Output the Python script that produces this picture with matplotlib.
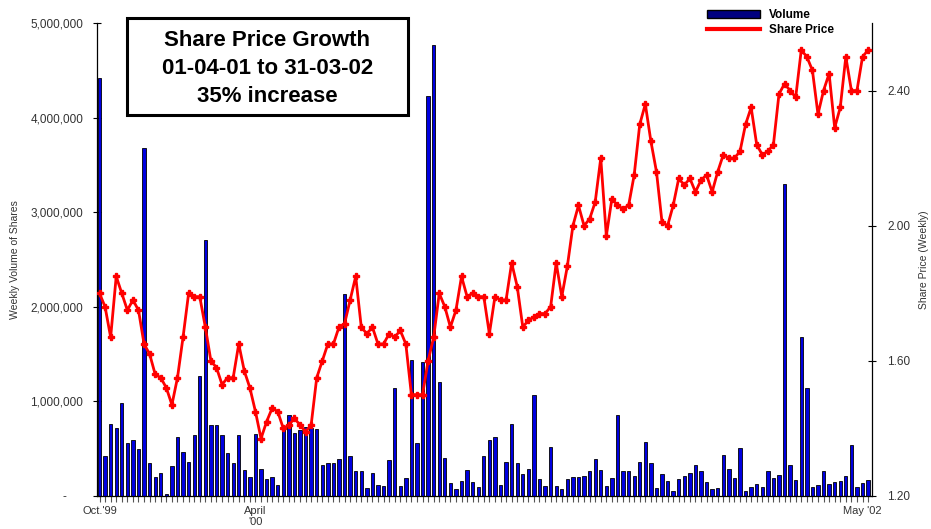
import matplotlib
matplotlib.use("Agg")
import matplotlib.lines as mlines
import matplotlib.patches as mpatches
import matplotlib.pyplot as plt
import numpy as np
from matplotlib.ticker import FuncFormatter

plt.rcParams["font.family"] = ["Liberation Sans", "DejaVu Sans"]

# weekly volume, millions of shares (Oct '99 .. May '02)
volume_m = [
    4.42, 0.42, 0.76, 0.72, 0.98, 0.56, 0.59, 0.50, 3.68, 0.35,
    0.20, 0.24, 0.02, 0.32, 0.62, 0.47, 0.36, 0.64, 1.27, 2.71,
    0.75, 0.75, 0.64, 0.45, 0.35, 0.64, 0.27, 0.20, 0.66, 0.29,
    0.18, 0.20, 0.12, 0.74, 0.86, 0.67, 0.70, 0.73, 0.72, 0.71,
    0.33, 0.35, 0.35, 0.39, 2.14, 0.42, 0.26, 0.26, 0.08, 0.24,
    0.12, 0.11, 0.38, 1.14, 0.11, 0.19, 1.44, 0.56, 1.42, 4.23,
    4.77, 1.21, 0.40, 0.14, 0.07, 0.16, 0.28, 0.15, 0.10, 0.42,
    0.59, 0.62, 0.12, 0.36, 0.76, 0.35, 0.23, 0.29, 1.07, 0.18,
    0.11, 0.52, 0.11, 0.07, 0.18, 0.20, 0.20, 0.21, 0.26, 0.39,
    0.28, 0.11, 0.19, 0.86, 0.26, 0.26, 0.21, 0.36, 0.57, 0.35,
    0.08, 0.23, 0.16, 0.05, 0.18, 0.21, 0.24, 0.33, 0.26, 0.15,
    0.07, 0.08, 0.43, 0.29, 0.19, 0.51, 0.05, 0.10, 0.13, 0.09,
    0.26, 0.19, 0.22, 3.30, 0.33, 0.17, 1.68, 1.14, 0.10, 0.12,
    0.26, 0.13, 0.15, 0.16, 0.21, 0.54, 0.10, 0.14, 0.17,
]

# weekly share price
price = [
    1.80, 1.76, 1.67, 1.85, 1.80, 1.75, 1.78, 1.75, 1.65, 1.62,
    1.56, 1.55, 1.52, 1.47, 1.55, 1.67, 1.80, 1.79, 1.79, 1.70,
    1.60, 1.58, 1.53, 1.55, 1.55, 1.65, 1.57, 1.52, 1.45, 1.37,
    1.42, 1.46, 1.45, 1.40, 1.41, 1.43, 1.41, 1.39, 1.41, 1.55,
    1.60, 1.65, 1.65, 1.70, 1.71, 1.78, 1.85, 1.70, 1.68, 1.70,
    1.65, 1.65, 1.68, 1.67, 1.69, 1.65, 1.50, 1.50, 1.50, 1.60,
    1.67, 1.80, 1.76, 1.70, 1.75, 1.85, 1.79, 1.80, 1.79, 1.79,
    1.68, 1.79, 1.78, 1.78, 1.89, 1.82, 1.70, 1.72, 1.73, 1.74,
    1.74, 1.76, 1.89, 1.79, 1.88, 2.00, 2.06, 2.00, 2.02, 2.07,
    2.20, 1.97, 2.08, 2.06, 2.05, 2.06, 2.15, 2.30, 2.36, 2.25,
    2.16, 2.01, 2.00, 2.06, 2.14, 2.12, 2.14, 2.10, 2.135, 2.15,
    2.10, 2.16, 2.21, 2.20, 2.20, 2.22, 2.30, 2.35, 2.24, 2.21,
    2.22, 2.24, 2.39, 2.42, 2.40, 2.38, 2.52, 2.50, 2.46, 2.33,
    2.40, 2.45, 2.29, 2.35, 2.50, 2.40, 2.40, 2.50, 2.52,
]

date_labels = ["Oct.'99", "April\n'00", "May '02"]
date_label_weeks = [0, 28, 137]
volume_ticks = [0, 1e6, 2e6, 3e6, 4e6, 5e6]
price_ticks = [1.20, 1.60, 2.00, 2.40]
title_lines = ["Share Price Growth", "01-04-01 to 31-03-02", "35% increase"]

weeks = np.arange(len(volume_m))
volume = np.array(volume_m) * 1e6

W, H = 931, 529
fig = plt.figure(figsize=(W / 100, H / 100), dpi=100)
ax = fig.add_axes([97 / W, 33 / H, 775 / W, 473 / H])

ax.bar(weeks, volume, width=0.6, color="#0000e0", edgecolor="black", linewidth=0.6, zorder=2)
ax.set_xlim(-0.45, len(weeks) - 0.3)
ax.set_ylim(0, 5e6)
ax.set_yticks(volume_ticks)
ax.yaxis.set_major_formatter(FuncFormatter(lambda v, p: "-     " if v == 0 else f"{v:,.0f}"))
ax.set_xticks(date_label_weeks)
ax.set_xticklabels(date_labels)
ax.set_xticks(weeks, minor=True)
ax.tick_params(axis="x", which="both", direction="out", length=4, width=0.8, color="#555555",
               labelsize=8, labelcolor="#333333", pad=3)
ax.tick_params(axis="y", direction="inout", length=6, width=0.8, labelsize=8.5, labelcolor="#333333", pad=7)
ax.set_ylabel("Weekly Volume of Shares", fontsize=7.5, color="#333333")
ax.yaxis.set_label_coords(-0.099, 0.5)
for side in ["top", "right"]:
    ax.spines[side].set_visible(False)
ax.spines["left"].set_linewidth(0.9)
ax.spines["bottom"].set_linewidth(0.9)

ax2 = ax.twinx()
ax2.plot(weeks, price, color="#ff0000", lw=2, marker="P", ms=4.5, zorder=3)
ax2.set_ylim(1.2, 2.6)
ax2.set_yticks(price_ticks)
ax2.yaxis.set_major_formatter(FuncFormatter(lambda v, p: f"{v:.2f}"))
ax2.tick_params(axis="y", direction="inout", length=6, width=0.8, labelsize=8.5, labelcolor="#333333", pad=8)
ax2.set_ylabel("Share Price (Weekly)", fontsize=7.5, color="#333333")
ax2.yaxis.set_label_coords(1.061, 0.5)
for side in ["top", "left", "bottom"]:
    ax2.spines[side].set_visible(False)
ax2.spines["right"].set_linewidth(0.9)

# title box
fig.add_artist(mpatches.Rectangle((127 / W, 1 - 115 / H), 281 / W, 97 / H, transform=fig.transFigure,
                                  facecolor="white", edgecolor="black", lw=2.2))
for y_px, line in zip([40, 69, 97], title_lines):
    fig.text(267.5 / W, 1 - y_px / H, line, ha="center", va="center", fontsize=16, fontweight="bold")

handles = [
    mpatches.Patch(facecolor="#000080", edgecolor="black", label="Volume"),
    mlines.Line2D([], [], color="#ff0000", lw=3, label="Share Price"),
]
fig.legend(handles=handles, loc="upper left", bbox_to_anchor=(707 / W, 1 - 9 / H), frameon=False,
           prop={"weight": "bold", "size": 8.5}, handlelength=4.5, handletextpad=0.75,
           labelspacing=0.25, borderpad=0, borderaxespad=0, handleheight=0.7)

fig.savefig("out.png", dpi=100)
